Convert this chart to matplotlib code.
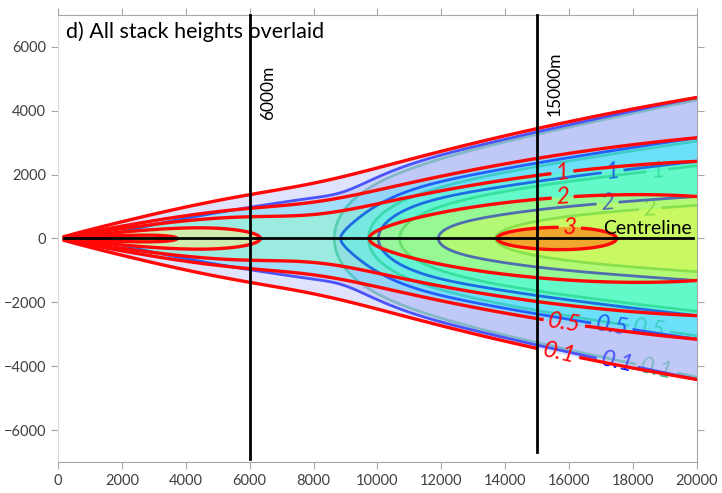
import numpy as np
import matplotlib
matplotlib.use("Agg")
import matplotlib.pyplot as plt
from matplotlib.colors import to_rgba

plt.rcParams['font.family'] = ['Lato', 'DejaVu Sans']

# --- chart data ---
levels = [0.1, 0.5, 1, 2, 3]
level_text = {0.1: '0.1', 0.5: '0.5', 1: '1', 2: '2', 3: '3'}
band_colors = ['#afb9f6', '#46d9f9', '#39f9b9', '#b9f939', '#f59922']
band_alpha = [0.4, 0.4, 0.4, 0.4, 0.85]

stack_names = ['high', 'mid', 'low']
line_colors = ['#35b874', '#0a10ff', '#ff0808']
line_widths = [2.0, 2.0, 2.4]

# plume width (sigma_y = coef * x**exp), same for all stacks
sigma_coef = 0.156
sigma_exp = 0.94

# centreline values read from where each contour meets the centreline
# near-source part: amplitude, switch-on distance, fade distance, fade power
near_amp = [0.0, 0.48, 3.4]
near_on = [1.0, 3000, 1.0]
near_off = [1.0, 12000, 6710]
near_pow = [1.0, 8, 3.4]
# far part (rising): amplitude, half distance, steepness
rise_amp = [2.45, 2.7, 0.0]
rise_x = [10500, 10549, 1.0]
rise_q = [6.0, 7.6, 1.0]
# far part (peaked, low stack): amplitude, peak distance, log width
peak_amp = [0.0, 0.0, 3.1]
peak_x = [1.0, 1.0, 15500]
peak_w = [1.0, 1.0, 0.47]

# label positions (x, y) for each stack
label_pos = [
    [(18780, 1970), (18530, 940), (18530, -2720), (18780, -3875)],
    [(17370, 2030), (17200, 1125), (17340, -2720), (17530, -3750)],
    [(15800, 1970), (15800, 1250), (16020, 310), (15870, -2500), (15710, -3440)],
]

marker_x = [6000, 15000]
marker_ybot = [-6900, -6700]
marker_text = ['6000m', '15000m']
marker_text_pos = [(6570, 4560), (15560, 4840)]

# --- grid ---
x = np.linspace(150, 20500, 900)
y = np.linspace(-7000, 7000, 1101)
X, Y = np.meshgrid(x, y)
sig = sigma_coef * x ** sigma_exp


def centreline(i):
    on = 1 - np.exp(-(x / near_on[i]) ** 2)
    near = near_amp[i] * on * np.exp(-(x / near_off[i]) ** near_pow[i])
    rise = rise_amp[i] * np.exp(-(rise_x[i] / x) ** rise_q[i])
    peak = peak_amp[i] * np.exp(-np.log(x / peak_x[i]) ** 2 / (2 * peak_w[i] ** 2))
    return near + rise + peak


fig = plt.figure(figsize=(7.22, 4.93), dpi=100)
ax = fig.add_axes([0.0803, 0.0629, 0.8850, 0.9067])

band_rgba = [to_rgba(c, a) for c, a in zip(band_colors, band_alpha)]

for i in range(3):
    A = centreline(i)
    F = A[None, :] * np.exp(-0.5 * (Y / sig[None, :]) ** 2)
    z = 1 + 2 * i
    ax.contourf(X, Y, F, levels=levels + [100], colors=band_rgba, zorder=z)
    cs = ax.contour(X, Y, F, levels=levels, colors=line_colors[i],
                    linewidths=line_widths[i], zorder=z + 1)
    texts = ax.clabel(cs, inline=True, inline_spacing=4, fmt=level_text,
                      fontsize=17, manual=label_pos[i])
    for t in texts:
        t.set_fontstyle('italic')
        t.set_color(line_colors[i])
        t.set_zorder(z + 1.5)

# centreline and distance markers
ax.plot([200, 19870], [0, 0], color='black', lw=2, zorder=10)
ax.text(17050, 60, 'Centreline', fontsize=14, ha='left', va='bottom', zorder=11)
for mx, yb, mt, (tx, ty) in zip(marker_x, marker_ybot, marker_text, marker_text_pos):
    ax.plot([mx, mx], [yb, 7000], color='black', lw=2, zorder=10, clip_on=False)
    ax.text(tx, ty, mt, rotation=90, fontsize=12.5, ha='center', va='center', zorder=11)

ax.text(0.012, 0.985, 'd) All stack heights overlaid', transform=ax.transAxes,
        fontsize=15.5, ha='left', va='top', zorder=11)

ax.set_xlim(0, 20000)
ax.set_ylim(-7000, 7000)
ax.set_xticks(np.arange(0, 20001, 2000))
ax.set_yticks(np.arange(-6000, 6001, 2000))
ax.tick_params(top=True, right=True, direction='out', length=5, color='#a6a6a6',
               labelsize=10.5, labelcolor='#404040')
for side in ['top', 'bottom', 'right']:
    ax.spines[side].set_color('#a6a6a6')
ax.spines['left'].set_color('#d9d9d9')

fig.savefig('out.png', dpi=100)
